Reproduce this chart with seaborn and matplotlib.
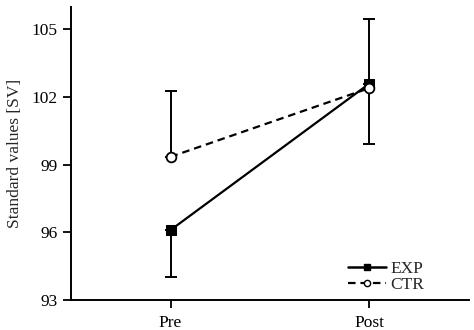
import matplotlib
matplotlib.use("Agg")
import matplotlib.pyplot as plt
from matplotlib.lines import Line2D
import seaborn as sns
import pandas as pd
import numpy as np

phases = ["Pre", "Post"]
exp_mean = [96.1, 102.6]
ctr_mean = [99.35, 102.4]
exp_err_lower = [2.1, 0.0]
exp_err_upper = [0.0, 2.87]
ctr_err_lower = [0.0, 2.5]
ctr_err_upper = [2.9, 0.0]
yticks = [93, 96, 99, 102, 105]

sns.set_style("ticks")
plt.rcParams["font.family"] = ["Liberation Serif", "DejaVu Serif"]

df = pd.DataFrame({
    "phase": phases * 2,
    "x": [0, 1, 0, 1],
    "value": exp_mean + ctr_mean,
    "group": ["EXP", "EXP", "CTR", "CTR"],
})

fig = plt.figure(figsize=(4.74, 3.30), dpi=100)
ax = fig.add_axes([0.150, 0.091, 0.839, 0.888])

x = np.arange(len(phases))
ax.errorbar(x, exp_mean, yerr=[exp_err_lower, exp_err_upper], fmt="none",
            ecolor="black", elinewidth=1.4, capsize=4, capthick=1.4, zorder=2)
ax.errorbar(x, ctr_mean, yerr=[ctr_err_lower, ctr_err_upper], fmt="none",
            ecolor="black", elinewidth=1.4, capsize=4, capthick=1.4, zorder=2)

dash = (0, (3.4, 2.2))
sns.lineplot(data=df[df.group == "EXP"], x="x", y="value", ax=ax, color="black",
             linewidth=1.6, marker="s", markersize=7, markerfacecolor="black",
             markeredgecolor="black", zorder=3, legend=False)
sns.lineplot(data=df[df.group == "CTR"], x="x", y="value", ax=ax, color="black",
             linewidth=1.6, linestyle=dash, marker="o", markersize=7,
             markerfacecolor="white", markeredgecolor="black", markeredgewidth=1.3,
             zorder=4, legend=False)

ax.set_xlim(-0.5, 1.5)
ax.set_ylim(93, 106)
ax.set_xticks(x)
ax.set_xticklabels(phases, fontsize=12.5)
ax.set_yticks(yticks)
ax.set_yticklabels([str(t) for t in yticks], fontsize=12.5)
ax.set_xlabel("")
ax.set_ylabel("Standard values [SV]", fontsize=12.5, labelpad=6)
ax.tick_params(direction="out", length=6, width=1.3, color="black", labelcolor="black")
ax.tick_params(axis="x", pad=5)
for s in ["top", "right"]:
    ax.spines[s].set_visible(False)
for s in ["left", "bottom"]:
    ax.spines[s].set_linewidth(1.4)
    ax.spines[s].set_color("black")

handles = [
    Line2D([], [], color="black", linewidth=1.8, marker="s", markersize=4.5,
           markerfacecolor="black", markeredgecolor="black"),
    Line2D([], [], color="black", linewidth=1.6, linestyle=dash, marker="o",
           markersize=4.5, markerfacecolor="white", markeredgecolor="black"),
]
ax.legend(handles, ["EXP", "CTR"], loc="center left", bbox_to_anchor=(0.696, 0.078),
          frameon=False, fontsize=12.5, handlelength=2.2, handletextpad=0.25,
          labelspacing=0.0, borderpad=0, borderaxespad=0)

fig.savefig("out.png", dpi=100)
